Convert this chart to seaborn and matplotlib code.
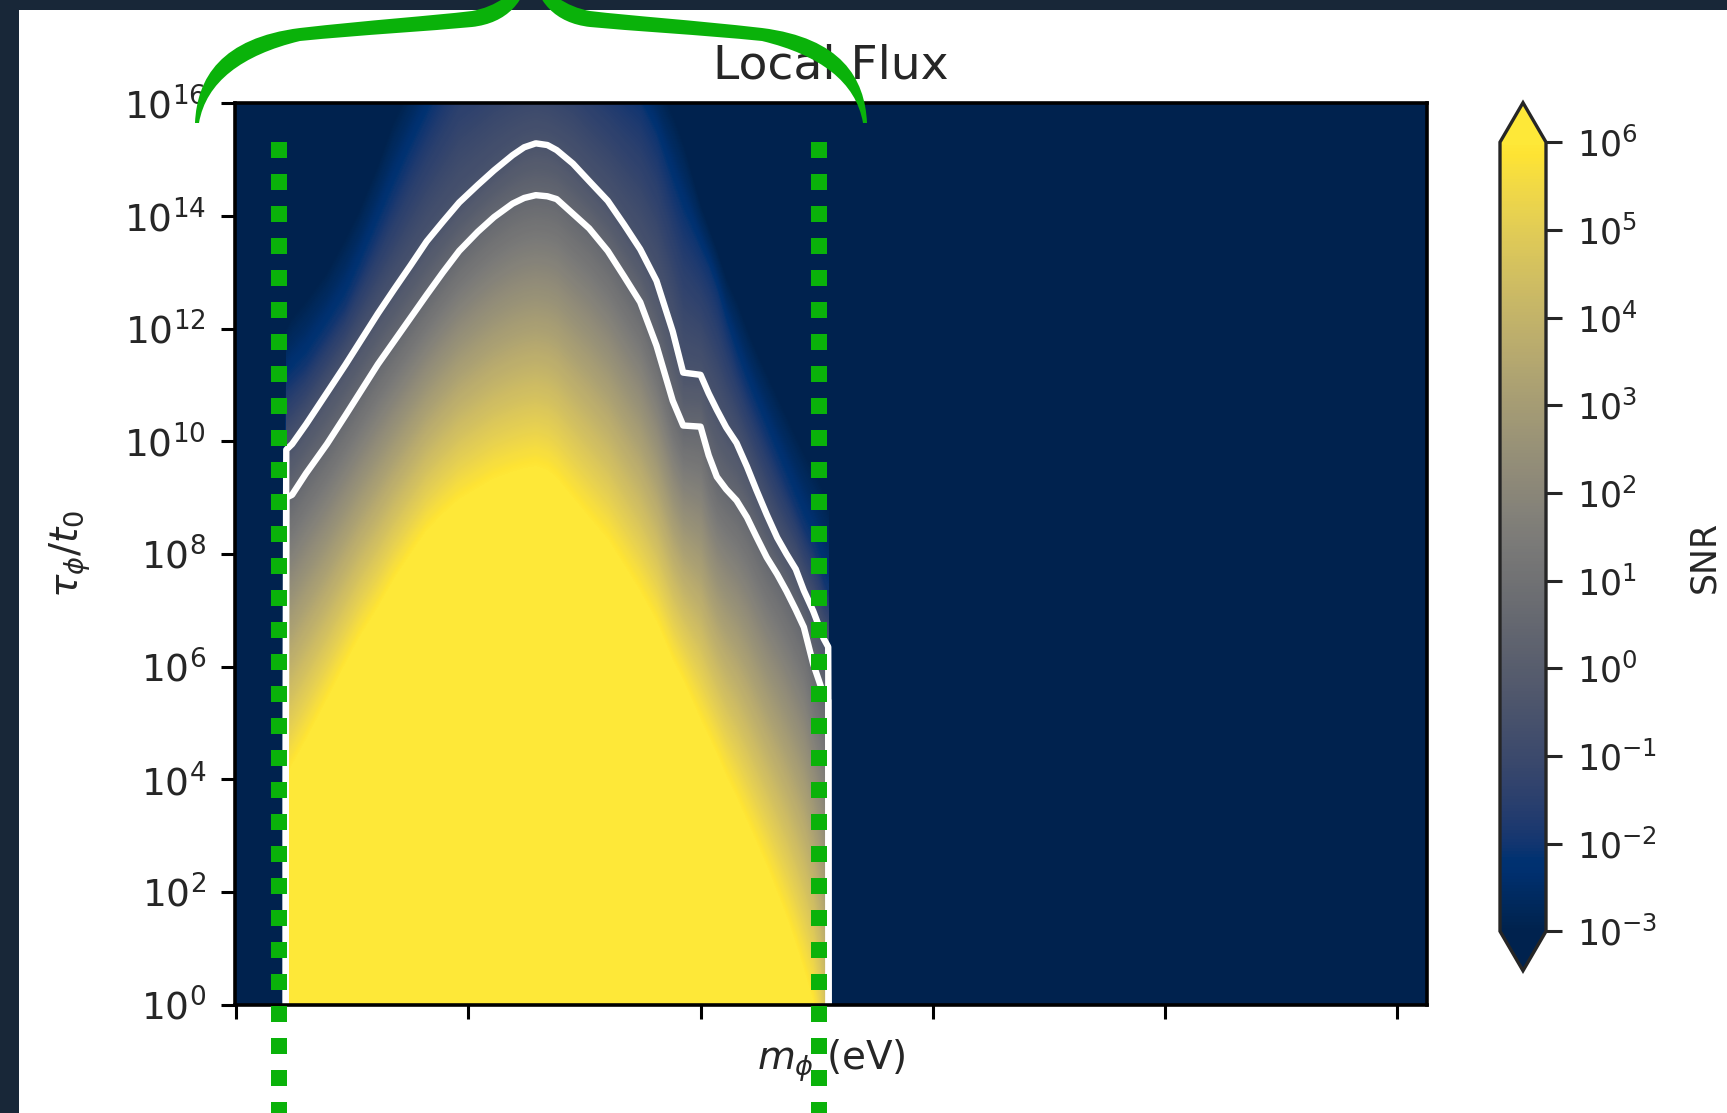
import numpy as np
import matplotlib
matplotlib.use("Agg")
import matplotlib.pyplot as plt
import matplotlib.ticker as mticker
import matplotlib.transforms as mtransforms
from matplotlib.colors import LogNorm
from matplotlib.cm import ScalarMappable
from matplotlib.path import Path
from matplotlib.patches import PathPatch, Rectangle
import seaborn as sns

sns.set_style("ticks")
plt.rcParams['font.family'] = ['DejaVu Sans']

# ---- values (all in log10 units) ----
# mass columns across the signal band, log10(m_phi / eV)
log_m = [-1.785, -1.76, -1.70, -1.61, -1.53, -1.47, -1.39, -1.32, -1.25, -1.18, -1.11,
         -1.04, -0.96, -0.89, -0.81, -0.76, -0.71, -0.66, -0.62, -0.55, -0.48, -0.40,
         -0.33, -0.26, -0.19, -0.12, -0.075, 0.0, 0.035, 0.07, 0.11, 0.155, 0.20,
         0.24, 0.285, 0.33, 0.37, 0.41, 0.445, 0.485, 0.51, 0.53, 0.55]
# log10(tau/t0) at which log10(SNR) reaches each level, per mass column
tau_snr_6 = [4.0, 4.2, 4.65, 5.36, 6.0, 6.47, 7.0, 7.51, 7.95, 8.37, 8.67,
             8.93, 9.13, 9.30, 9.42, 9.48, 9.52, 9.45, 9.30, 8.95, 8.6, 8.21,
             7.75, 7.28, 6.75, 6.06, 5.70, 5.0, 4.7, 4.39, 4.0, 3.62, 3.2,
             2.83, 2.4, 1.93, 1.5, 1.02, 0.55, 0.0, -0.7, -1.5, -3.0]
tau_inner = [9.0, 9.05, 9.43, 9.95, 10.46, 10.85, 11.37, 11.78, 12.19, 12.60, 13.0,
             13.38, 13.72, 13.98, 14.22, 14.32, 14.37, 14.35, 14.30, 14.04, 13.78, 13.38,
             12.93, 12.47, 11.70, 10.72, 10.28, 10.26, 9.75, 9.37, 9.15, 8.95, 8.65,
             8.31, 7.94, 7.64, 7.34, 7.01, 6.70, 6.05, 5.75, 5.5, 5.4]
tau_outer = [9.85, 9.95, 10.3, 10.86, 11.36, 11.75, 12.27, 12.70, 13.12, 13.55, 13.90,
             14.24, 14.55, 14.81, 15.08, 15.22, 15.29, 15.26, 15.17, 14.93, 14.62, 14.27,
             13.85, 13.41, 12.85, 11.95, 11.22, 11.18, 10.85, 10.56, 10.25, 9.97, 9.55,
             9.14, 8.70, 8.29, 8.0, 7.73, 7.35, 6.99, 6.72, 6.5, 6.35]
tau_blue = [11.0, 11.1, 11.35, 11.9, 12.4, 12.95, 13.7, 14.35, 15.0, 15.6, 16.2,
            16.8, 17.0, 17.2, 17.3, 17.3, 17.3, 17.2, 17.1, 17.0, 16.7, 16.4,
            16.15, 15.9, 15.3, 14.4, 13.9, 13.3, 13.0, 12.6, 12.0, 11.4, 10.9,
            10.5, 10.05, 9.6, 9.2, 8.8, 8.45, 8.1, 7.8, 7.5, 7.3]
tau_navy = [12.0, 12.2, 12.5, 13.0, 13.6, 14.1, 14.9, 15.7, 16.3, 16.9, 17.5,
            18.0, 18.2, 18.3, 18.4, 18.4, 18.4, 18.35, 18.3, 18.2, 17.9, 17.6,
            17.2, 16.8, 16.4, 15.8, 15.3, 14.2, 13.8, 13.4, 12.9, 12.5, 12.0,
            11.6, 11.2, 10.8, 10.45, 10.1, 9.8, 9.5, 9.3, 9.1, 8.9]
# log10(SNR) on each of those rows (bottom row / top row fill the rest of the plane)
snr_rows = [8.0, 6.0, 0.5, -0.5, -2.0, -3.0, -5.0]
contour_levels = [-0.499, 0.501]
snr_empty = -5.0

x_tick_dec = [-2, -1, 0, 1, 2, 3]
y_tick_dec = [0, 2, 4, 6, 8, 10, 12, 14, 16]
cbar_ticks_dec = [-3, -2, -1, 0, 1, 2, 3, 4, 5, 6]
marker_log_m = [-1.816, 0.511]   # green dotted guides

W, H, DPI = 1727, 1113, 200
GREEN = '#0ab20a'
FRAME = '#182738'

# ---- build the (curvilinear) grid from the readings, in decades ----
lm = np.array(log_m)
rows = np.array([np.full(lm.size, -6.0), tau_snr_6, tau_inner, tau_outer,
                 tau_blue, tau_navy, np.full(lm.size, 20.0)])
lm_full = np.concatenate([[-2.3, lm[0] - 0.004], lm, [lm[-1] + 0.004, 3.4]])
rows_full = np.hstack([rows[:, [0, 0]], rows, rows[:, [-1, -1]]])
logsnr = np.repeat(np.array(snr_rows)[:, None], lm_full.size, axis=1)
logsnr[:, :2] = snr_empty
logsnr[:, -2:] = snr_empty
X = np.broadcast_to(lm_full, logsnr.shape)
Y = rows_full

fig = plt.figure(figsize=(W / DPI, H / DPI), dpi=DPI, facecolor=FRAME)
fig.add_artist(Rectangle((19 / W, 0), 1 - 19 / W, 1 - 10 / H, transform=fig.transFigure,
                         facecolor='white', edgecolor='none', zorder=-5))

ax = fig.add_axes([235 / W, 1 - 1004.5 / H, (1427 - 235) / W, (1004.5 - 103.3) / H])
cax = fig.add_axes([1500 / W, 1 - 970.7 / H, 46 / W, 868 / H])

cmap = sns.color_palette("cividis", as_cmap=True)
ax.contourf(X, Y, logsnr, levels=np.linspace(-3, 6, 271), cmap=cmap, extend='both',
            antialiased=False)
ax.contour(X, Y, logsnr, levels=contour_levels, colors='white', linewidths=2.3,
           linestyles='solid')

pow10 = mticker.FuncFormatter(lambda v, pos: r'$\mathdefault{10^{%d}}$' % round(v))
ax.set_xlim(-2.006, 3.13)
ax.set_ylim(0, 16)
ax.xaxis.set_major_locator(mticker.FixedLocator(x_tick_dec))
ax.xaxis.set_major_formatter(mticker.NullFormatter())
ax.yaxis.set_major_locator(mticker.FixedLocator(y_tick_dec))
ax.yaxis.set_major_formatter(pow10)
ax.tick_params(length=5, width=1.1, labelsize=13.5, pad=5.4, color='black')
for s in ax.spines.values():
    s.set_linewidth(1.3)
    s.set_color('black')

ax.set_title('Local Flux', fontsize=17, pad=9)
ax.set_xlabel(r'$m_\phi$ (eV)', fontsize=14)
ax.xaxis.set_label_coords(0.5, -0.036)
ax.set_ylabel(r'$\tau_\phi/t_0$', fontsize=14)
ax.yaxis.set_label_coords(-0.119, 0.5)

sm = ScalarMappable(norm=LogNorm(vmin=1e-3, vmax=1e6), cmap=cmap)
cb = fig.colorbar(sm, cax=cax, extend='both')
cb.set_ticks(10.0 ** np.array(cbar_ticks_dec))
cb.ax.yaxis.set_major_formatter(mticker.LogFormatterSciNotation())
cb.ax.minorticks_off()
cb.ax.tick_params(length=5.8, width=1.1, labelsize=12.5, pad=5.4)
cb.outline.set_linewidth(1.2)
cb.set_label('SNR', fontsize=12.5)
cb.ax.yaxis.set_label_coords(4.07, 0.474)

# green dotted guides, running past the axes down to the bottom of the figure
for lmk in marker_log_m:
    ax.plot([lmk, lmk], [0.9567, -0.14], transform=ax.get_xaxis_transform(),
            color=GREEN, lw=5.76, ls=(0, (1, 1)), dash_capstyle='butt',
            clip_on=False, zorder=6)

# green curly brace over the title (pixel coords, y measured from the top)
px = mtransforms.Affine2D().scale(1 / W, -1 / H).translate(0, 1) + fig.transFigure
brace_out = [(195, 123), (197, 78), (221, 38), (300, 28), (370, 20), (430, 16), (472, 11),
             (495, 7), (517, -7), (531, -32)]
brace_in = [(526, 2), (507, 23), (472, 27), (430, 31), (360, 35), (300, 41),
            (242, 55), (206, 82), (199, 123)]
codes = [Path.MOVETO] + [Path.CURVE4] * 18 + [Path.CLOSEPOLY]
for flip in (False, True):
    pts = brace_out + brace_in + [brace_out[0]]
    if flip:
        pts = [(1062 - x, y) for x, y in pts]
    fig.add_artist(PathPatch(Path(pts, codes), transform=px, facecolor=GREEN,
                             edgecolor='none', zorder=10, clip_on=False))

fig.savefig('out.png', dpi=DPI, facecolor=fig.get_facecolor())
